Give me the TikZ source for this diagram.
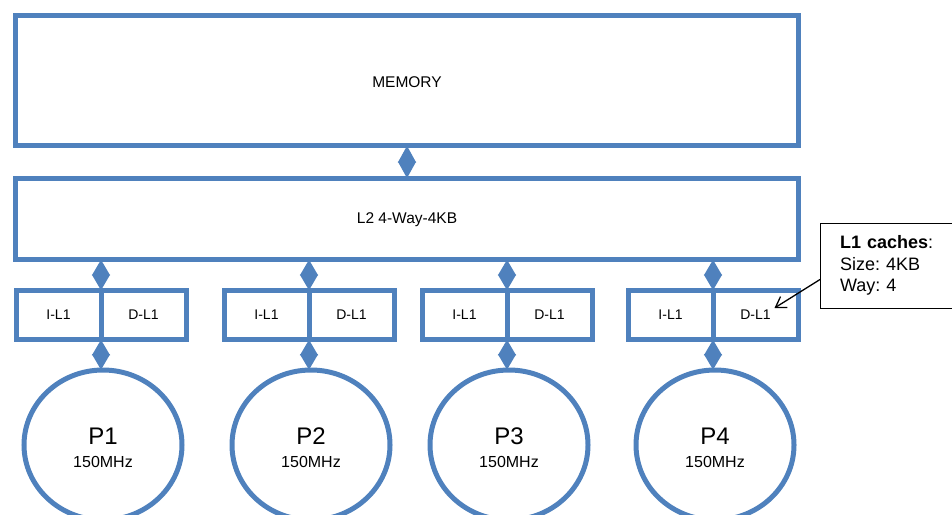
\documentclass[tikz,border=0pt]{standalone}
\usepackage{fontspec}
\setmainfont{Liberation Sans}
\usetikzlibrary{arrows.meta,calc,shapes.geometric}
\definecolor{boxblue}{HTML}{4F81BD}
\tikzset{
  every node/.style={outer sep=0pt},
  blk/.style={draw=boxblue, line width=5pt, fill=white, inner sep=0pt, rectangle},
  cpu/.style={draw=boxblue, line width=5pt, fill=white, ellipse, inner sep=0pt,
              minimum width=158pt, minimum height=150pt},
  link/.style={draw=boxblue, line width=5pt, color=boxblue,
               {Triangle[length=#1,width=17pt]}-{Triangle[length=#1,width=17pt]}},
  link/.default=15.8pt,
  divider/.style={draw=boxblue, line width=5pt},
  biglab/.style={font=\fontsize{15.5}{18}\selectfont},
  lab/.style={font=\fontsize{14}{16}\selectfont},
  note/.style={draw=black, line width=1pt, fill=white, align=left, anchor=north west,
               font=\fontsize{18}{21.5}\selectfont, inner xsep=20pt, inner ysep=0pt,
               text width=100pt, minimum height=85pt},
}
\begin{document}
\begin{tikzpicture}[x=1pt, y=-1pt]
  \useasboundingbox (0,0) rectangle (952,514);

  % main memory and shared L2
  \node[blk, minimum width=783pt, minimum height=130pt] (mem) at (407,80.5) {};
  \node[biglab] (memlab) at (407,82) {MEMORY};
  \node[blk, minimum width=783pt, minimum height=81pt] (l2) at (407,219) {};
  \node[biglab] (l2lab) at (407,220) {L2 4-Way-4KB};
  \draw[link=17pt] (mem.south) -- (l2.north);

  % per-core split L1 caches and processors
  \foreach \i/\x in {1/101, 2/309, 3/507, 4/713} {
    \node[blk, minimum width=85pt, minimum height=49pt, anchor=east, lab] (il\i) at (\x,315) {I-L1};
    \node[blk, minimum width=85pt, minimum height=49pt, anchor=west, lab] (dl\i) at (\x,315) {D-L1};
    \draw[divider] (il\i.north east) -- (il\i.south east);
    \node[cpu] (p\i) at (\x+2,445) {};
    \node[font=\fontsize{24}{26}\selectfont] (pn\i) at (\x+2,436) {P\i};
    \node[font=\fontsize{16}{18}\selectfont] (pf\i) at (\x+2,462) {150MHz};
    \draw[link] (l2.south -| il\i.north east) -- (il\i.north east);
    \draw[link] (il\i.south east) -- (p\i.north -| il\i.south east);
  }

  % callout describing the L1 caches
  \node[note] (callout) at (820,223) {\frenchspacing\textbf{L1 caches}:\\Size: 4KB\\Way: 4};
  \coordinate (tipD) at ($(dl4.center)+(19,-7)$);
  \draw[black, line width=1.3pt, -{Straight Barb[length=10pt,width=13pt]}] ($(callout.west)+(0,14)$) -- (tipD);
\end{tikzpicture}
\end{document}
